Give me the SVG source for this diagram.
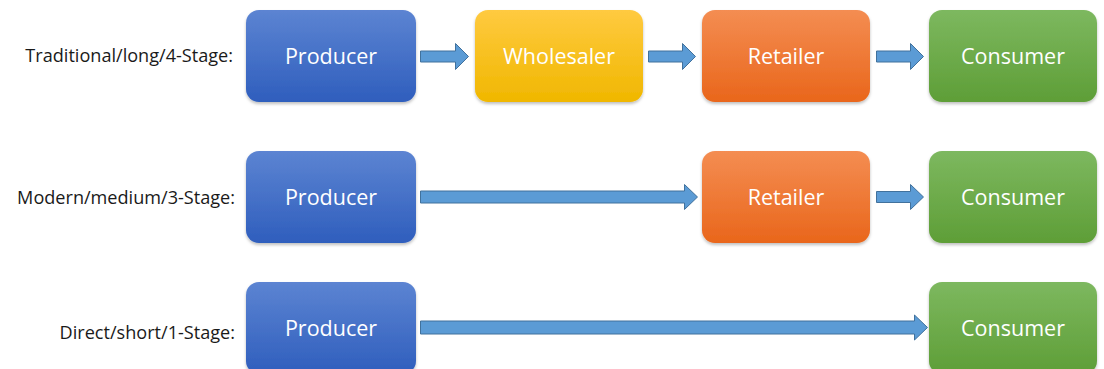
<svg xmlns="http://www.w3.org/2000/svg" width="1104" height="369" viewBox="0 0 1104 369">
<defs>
<linearGradient id="gBlue" x1="0" y1="0" x2="0" y2="1"><stop offset="0" stop-color="#5c84d2"/><stop offset="1" stop-color="#2f5ebd"/></linearGradient>
<linearGradient id="gYellow" x1="0" y1="0" x2="0" y2="1"><stop offset="0" stop-color="#ffca40"/><stop offset="1" stop-color="#f0b700"/></linearGradient>
<linearGradient id="gOrange" x1="0" y1="0" x2="0" y2="1"><stop offset="0" stop-color="#f48d52"/><stop offset="1" stop-color="#e9661b"/></linearGradient>
<linearGradient id="gGreen" x1="0" y1="0" x2="0" y2="1"><stop offset="0" stop-color="#7db85f"/><stop offset="1" stop-color="#5e9e37"/></linearGradient>
<filter id="sh" x="-10%" y="-10%" width="120%" height="130%"><feDropShadow dx="0" dy="2" stdDeviation="1.5" flood-color="#000" flood-opacity="0.25"/></filter>
</defs>
<style>
.lbl{font-family:"Open Sans","Liberation Sans",sans-serif;font-size:18.1px;fill:#1a1a1a;text-anchor:end}
.bt{font-family:"Open Sans","Liberation Sans",sans-serif;font-size:21.5px;fill:#ffffff;text-anchor:middle}
.box{filter:url(#sh)}
.arr{fill:#5b9bd5;stroke:#41719c;stroke-width:1}
</style>
<rect width="1104" height="369" fill="#ffffff"/>
<g id="labels">
<text class="lbl" x="233" y="62">Traditional/long/4-Stage:</text>
<text class="lbl" x="235" y="204">Modern/medium/3-Stage:</text>
<text class="lbl" x="235" y="339">Direct/short/1-Stage:</text>
</g>
<g id="r1-producer"><rect class="box" x="246" y="10" width="170" height="92" rx="13" fill="url(#gBlue)"/><text class="bt" x="331" y="64">Producer</text></g>
<g id="r1-wholesaler"><rect class="box" x="475" y="10" width="168" height="92" rx="13" fill="url(#gYellow)"/><text class="bt" x="559" y="64">Wholesaler</text></g>
<g id="r1-retailer"><rect class="box" x="702" y="10" width="168" height="92" rx="13" fill="url(#gOrange)"/><text class="bt" x="786" y="64">Retailer</text></g>
<g id="r1-consumer"><rect class="box" x="929" y="10" width="168" height="92" rx="13" fill="url(#gGreen)"/><text class="bt" x="1013" y="64">Consumer</text></g>
<g id="r2-producer"><rect class="box" x="246" y="151" width="170" height="92" rx="13" fill="url(#gBlue)"/><text class="bt" x="331" y="205">Producer</text></g>
<g id="r2-retailer"><rect class="box" x="702" y="151" width="168" height="92" rx="13" fill="url(#gOrange)"/><text class="bt" x="786" y="205">Retailer</text></g>
<g id="r2-consumer"><rect class="box" x="929" y="151" width="168" height="92" rx="13" fill="url(#gGreen)"/><text class="bt" x="1013" y="205">Consumer</text></g>
<g id="r3-producer"><rect class="box" x="246" y="282" width="170" height="92" rx="13" fill="url(#gBlue)"/><text class="bt" x="331" y="336">Producer</text></g>
<g id="r3-consumer"><rect class="box" x="929" y="282" width="168" height="92" rx="13" fill="url(#gGreen)"/><text class="bt" x="1013" y="336">Consumer</text></g>
<g id="connectors">
<path class="arr" d="M420.5,51 H455.5 V43.5 L468.5,56.5 L455.5,69.5 V62 H420.5 Z"/>
<path class="arr" d="M648.5,51 H682.5 V43.5 L695.5,56.5 L682.5,69.5 V62 H648.5 Z"/>
<path class="arr" d="M876.5,51 H910.5 V43.5 L923.5,56.5 L910.5,69.5 V62 H876.5 Z"/>
<path class="arr" d="M420.5,191 H684.5 V184.5 L697.5,197 L684.5,209.5 V203 H420.5 Z"/>
<path class="arr" d="M876.5,191.5 H910.5 V184.5 L923.5,197 L910.5,209.5 V202.5 H876.5 Z"/>
<path class="arr" d="M420.5,321 H914.5 V315 L927.5,327.5 L914.5,340 V334 H420.5 Z"/>
</g>
</svg>
